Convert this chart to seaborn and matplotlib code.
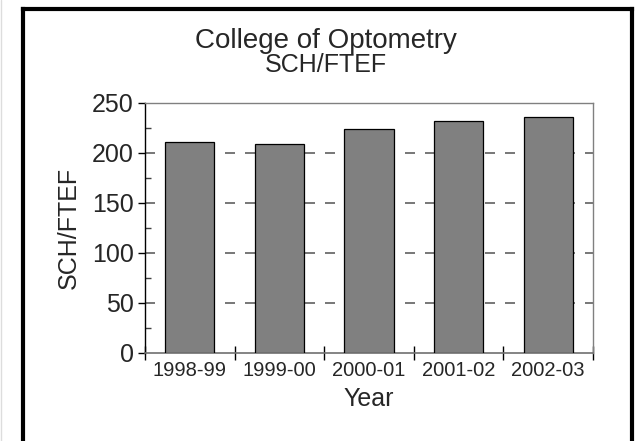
import matplotlib.pyplot as plt
import seaborn as sns
import pandas as pd
from matplotlib.lines import Line2D
from matplotlib.ticker import MultipleLocator, FixedLocator

sns.set_theme(style="white")
plt.rcParams['font.family'] = ['Liberation Sans', 'DejaVu Sans']

# data
years = ['1998-99', '1999-00', '2000-01', '2001-02', '2002-03']
sch_ftef = [211, 209, 224, 232, 236]

df = pd.DataFrame({'Year': years, 'SCH/FTEF': sch_ftef})

fig = plt.figure(figsize=(6.37, 4.41), dpi=100)
ax = fig.add_axes([145 / 637, 1 - 353 / 441, 448 / 637, 250 / 441])

sns.barplot(data=df, x='Year', y='SCH/FTEF', color='#808080', saturation=1,
            width=0.55, edgecolor='black', linewidth=0.9, ax=ax, zorder=3)

ax.set_ylim(0, 250)
ax.set_xlim(-0.5, len(years) - 0.5)
ax.yaxis.set_major_locator(MultipleLocator(50))
ax.yaxis.set_minor_locator(MultipleLocator(25))
ax.xaxis.set_minor_locator(FixedLocator([i - 0.5 for i in range(len(years) + 1)]))

# dashed horizontal gridlines
for v in [50, 100, 150, 200]:
    ax.axhline(v, color='#606060', lw=1.2, ls=(0, (6, 6)), zorder=1)

ax.tick_params(axis='y', which='major', direction='out', length=5, width=1,
               color='black', labelsize=18, pad=3, left=True)
ax.tick_params(axis='y', which='minor', direction='in', length=4, width=1,
               color='#404040', left=True)
ax.tick_params(axis='x', which='major', length=0, labelsize=14.5, pad=6)
ax.tick_params(axis='x', which='minor', direction='inout', length=10, width=1,
               color='black', bottom=True)

for side in ['top', 'right']:
    ax.spines[side].set_color('#808080')
    ax.spines[side].set_linewidth(1)
ax.spines['bottom'].set_color('#707070')
ax.spines['bottom'].set_linewidth(1.2)
ax.spines['left'].set_color('black')
ax.spines['left'].set_linewidth(1)

ax.set_xlabel('Year', fontsize=18, labelpad=5)
ax.set_ylabel('SCH/FTEF', fontsize=18, labelpad=8)

fig.text(326 / 637, 1 - 48 / 441, 'College of Optometry', ha='center', va='baseline', fontsize=20)
fig.text(326 / 637, 1 - 72 / 441, 'SCH/FTEF', ha='center', va='baseline', fontsize=18)

# outer frame (no bottom edge) and faint left line
fig.add_artist(Line2D([22.5 / 637, 22.5 / 637], [0, 1 - 8.5 / 441], color='black', lw=3,
                      transform=fig.transFigure, solid_capstyle='projecting'))
fig.add_artist(Line2D([631.5 / 637, 631.5 / 637], [0, 1 - 8.5 / 441], color='black', lw=3,
                      transform=fig.transFigure, solid_capstyle='projecting'))
fig.add_artist(Line2D([22.5 / 637, 631.5 / 637], [1 - 8.5 / 441, 1 - 8.5 / 441], color='black',
                      lw=3, transform=fig.transFigure, solid_capstyle='projecting'))
fig.add_artist(Line2D([1.5 / 637, 1.5 / 637], [0, 1], color='#dddddd', lw=1,
                      transform=fig.transFigure))

fig.savefig('out.png', dpi=100)
